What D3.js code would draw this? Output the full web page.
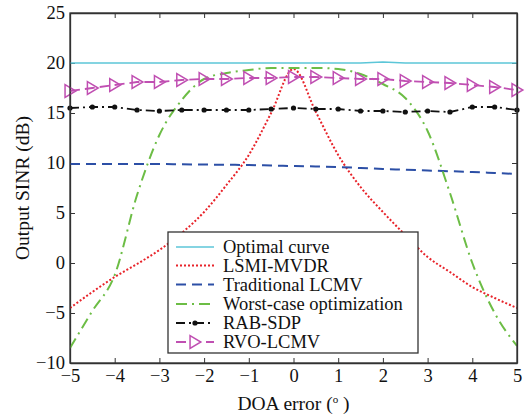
<!DOCTYPE html>
<html>
<head>
<meta charset="utf-8">
<script src="https://cdn.jsdelivr.net/npm/d3@7"></script>
<style>
  body { margin: 0; background: #fff; }
  svg { display: block; }
  text { font-family: "Liberation Serif", "Times New Roman", serif; fill: #111; }
</style>
</head>
<body>
<svg id="chart" width="532" height="416"></svg>
<script>
// ---- data ----
const doa = [-5,-4.5,-4,-3.5,-3,-2.5,-2,-1.5,-1,-0.5,0,0.5,1,1.5,2,2.5,3,3.5,4,4.5,5];
const optimal = [20,20,20,20,20,20,20,20,20,20,20,20,20,20,20.1,20,20,20,20,20,20];
const lsmi = [-4.5,-2.9,-1.4,-0.1,1.3,3.0,5.1,7.8,10.8,15.0,19.4,15.1,10.8,7.6,5.1,2.8,0.6,-0.9,-2.4,-3.5,-4.5];
const tradLcmv = [9.9,9.9,9.9,9.9,9.9,9.87,9.85,9.82,9.8,9.75,9.7,9.65,9.6,9.5,9.4,9.33,9.25,9.18,9.1,9.0,8.9];
const worstCase = [-8.5,-4.8,-1.2,6.8,12.8,16.3,18.4,19.0,19.3,19.5,19.5,19.5,19.4,18.9,17.9,16.5,13.2,7.0,0.0,-5.0,-8.3];
const rabSdp = [15.5,15.6,15.6,15.3,15.2,15.3,15.3,15.3,15.3,15.4,15.5,15.4,15.4,15.2,15.2,15.1,15.2,15.1,15.6,15.6,15.3];
const rvoLcmv = [17.2,17.5,17.8,18.1,18.1,18.3,18.4,18.4,18.5,18.5,18.6,18.6,18.5,18.4,18.4,18.2,18.1,18.0,17.8,17.6,17.3];
const seriesNames = ["Optimal curve","LSMI-MVDR","Traditional LCMV","Worst-case optimization","RAB-SDP","RVO-LCMV"];
const xTicks = [-5,-4,-3,-2,-1,0,1,2,3,4,5];
const yTicks = [-10,-5,0,5,10,15,20,25];

// ---- layout ----
const svg = d3.select("#chart");
const L = 70, R = 517, T = 13, B = 363;
const FS = "18.5px";
const FT = "19.5px";
const x = d3.scaleLinear().domain([-5,5]).range([L,R]);
const y = d3.scaleLinear().domain([-10,25]).range([B,T]);

const styles = [
  {color:"#5cc6d8", dash:null, width:1.6},
  {color:"#e8232a", dash:"2,2", width:2},
  {color:"#2c4fa6", dash:"10,6", width:2},
  {color:"#6cbd45", dash:"11,5,2,5", width:2},
  {color:"#111111", dash:"9,4,2,4", width:1.8, marker:"dot"},
  {color:"#c04fb2", dash:"10,5", width:1.8, marker:"tri"}
];
const data = [optimal, lsmi, tradLcmv, worstCase, rabSdp, rvoLcmv];

// axes
const gx = svg.append("g").attr("transform",`translate(0,${B})`)
  .call(d3.axisBottom(x).tickValues(xTicks).tickSizeInner(-5).tickSizeOuter(0).tickPadding(6).tickFormat(d3.format("d")));
const gxt = svg.append("g").attr("transform",`translate(0,${T})`)
  .call(d3.axisTop(x).tickValues(xTicks).tickSizeInner(-5).tickSizeOuter(0).tickFormat(""));
const gy = svg.append("g").attr("transform",`translate(${L},0)`)
  .call(d3.axisLeft(y).tickValues(yTicks).tickSizeInner(-5).tickSizeOuter(0).tickPadding(5).tickFormat(d3.format("d")));
const gyr = svg.append("g").attr("transform",`translate(${R},0)`)
  .call(d3.axisRight(y).tickValues(yTicks).tickSizeInner(-5).tickSizeOuter(0).tickFormat(""));
[gx,gxt,gy,gyr].forEach(g=>{
  g.select(".domain").attr("stroke","#333").attr("stroke-width",1.3);
  g.selectAll(".tick line").attr("stroke","#333").attr("stroke-width",1);
  g.selectAll(".tick text").style("font-family","'Liberation Serif', serif").style("font-size",FS).attr("fill","#111");
});

// clip
svg.append("clipPath").attr("id","clip").append("rect").attr("x",L).attr("y",T).attr("width",R-L).attr("height",B-T);
const plot = svg.append("g").attr("clip-path","url(#clip)");

const line = d3.line().x((d,i)=>x(doa[i])).y(d=>y(d));
const smooth = d3.line().x((d,i)=>x(doa[i])).y(d=>y(d)).curve(d3.curveMonotoneX);

function triPath(cx, cy, s) {
  return `M${cx-s*0.55},${cy-s*0.72}L${cx+s*0.65},${cy}L${cx-s*0.55},${cy+s*0.72}Z`;
}

data.forEach((vals,k)=>{
  const st = styles[k];
  const gen = (k===1 || k===3 || k===2) ? smooth : line;
  plot.append("path").attr("d", gen(vals)).attr("fill","none")
    .attr("stroke", st.color).attr("stroke-width", st.width)
    .attr("stroke-dasharray", st.dash);
  if (st.marker === "dot") {
    svg.append("g").selectAll("circle").data(vals).join("circle")
      .attr("cx",(d,i)=>x(doa[i])).attr("cy",d=>y(d)).attr("r",2.6).attr("fill",st.color);
  } else if (st.marker === "tri") {
    svg.append("g").selectAll("path").data(vals).join("path")
      .attr("d",(d,i)=>triPath(x(doa[i]), y(d), 9)).attr("fill","none")
      .attr("stroke",st.color).attr("stroke-width",1.5);
  }
});

// redraw frame on top
svg.append("rect").attr("x",L).attr("y",T).attr("width",R-L).attr("height",B-T)
  .attr("fill","none").attr("stroke","#333").attr("stroke-width",1.3);

// legend
const lg = svg.append("g");
lg.append("rect").attr("x",168).attr("y",232).attr("width",250).attr("height",121)
  .attr("fill","#fff").attr("stroke","#333").attr("stroke-width",1.3);
const rowY = [247,265.5,284.5,304,323,342];
seriesNames.forEach((name,k)=>{
  const st = styles[k];
  const yy = rowY[k];
  lg.append("line").attr("x1",176).attr("x2",214).attr("y1",yy).attr("y2",yy)
    .attr("stroke",st.color).attr("stroke-width",st.width).attr("stroke-dasharray",st.dash);
  if (st.marker === "dot") lg.append("circle").attr("cx",195).attr("cy",yy).attr("r",2.6).attr("fill",st.color);
  if (st.marker === "tri") lg.append("path").attr("d",triPath(195,yy,9)).attr("fill","#fff").attr("stroke",st.color).attr("stroke-width",1.5);
  lg.append("text").attr("x",223).attr("y",yy).attr("dy","0.35em").style("font-size",FS).text(name);
});

// axis titles
svg.append("text").attr("transform",`translate(22,${(T+B)/2}) rotate(-90)`).attr("text-anchor","middle")
  .attr("dy","0.35em").style("font-size",FT).text("Output SINR (dB)");
const xt = svg.append("text").attr("x",(L+R)/2).attr("y",410).attr("text-anchor","middle").style("font-size",FT);
xt.append("tspan").text("DOA error (");
xt.append("tspan").attr("dy",-7).style("font-size","11px").text("o");
xt.append("tspan").attr("dy",7).text(" )");
</script>
</body>
</html>
